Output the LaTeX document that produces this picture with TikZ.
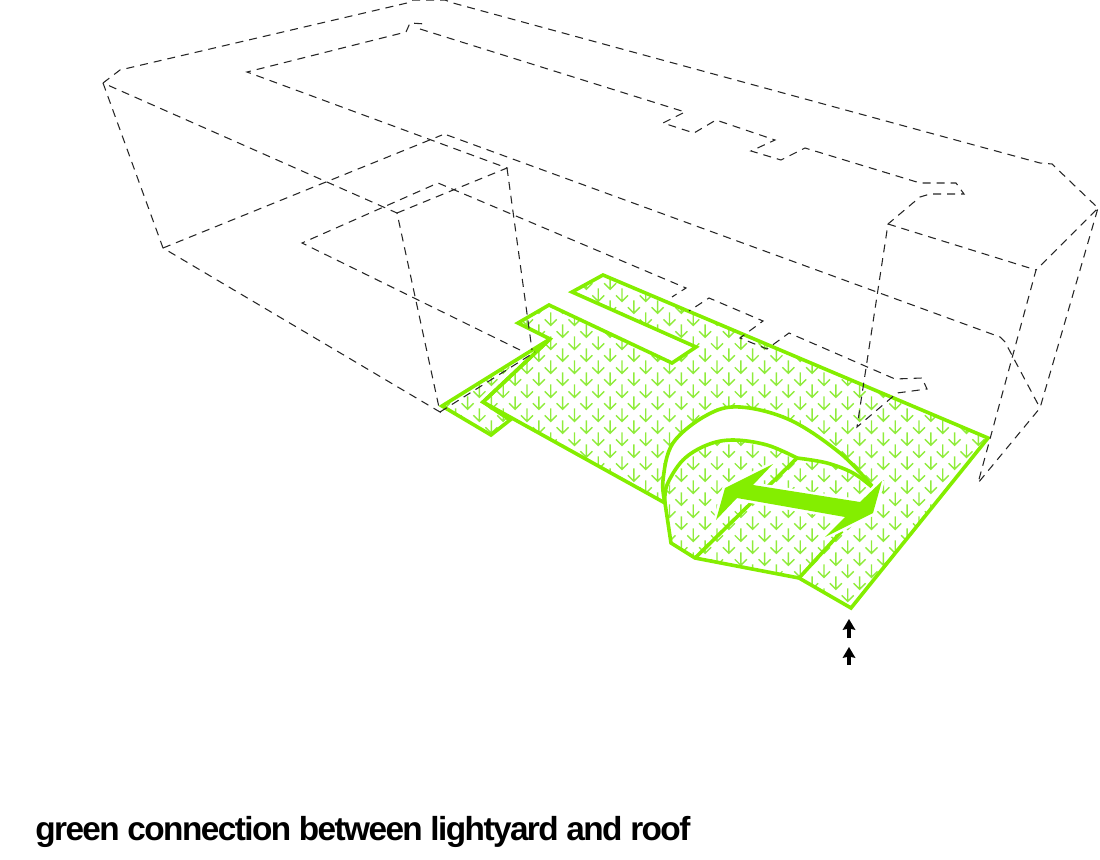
\documentclass[tikz,border=0pt]{standalone}
\usepackage{fontspec}
\setmainfont{Liberation Sans}
\tikzset{
  wire/.style={draw=black!85,line width=0.8pt,dash pattern=on 6pt off 4.5pt,line join=miter},
  greenline/.style={draw=leaf,line width=2.7pt,line join=miter},
  hatchline/.style={draw=leafsoft,line width=1.05pt},
  blackup/.style={draw=black,line width=3pt},
  caption/.style={anchor=base west,inner sep=0pt,font=\bfseries\fontsize{25pt}{28pt}\selectfont\addfontfeature{LetterSpace=-4.7}}
}
\definecolor{leaf}{HTML}{84EE00}
\definecolor{leafsoft}{HTML}{90EC3C}
\begin{document}
\begin{tikzpicture}[x=0.75pt,y=-0.75pt]
\useasboundingbox (0,0) rectangle (1100,860);
% green floor, hatching
\def\mainshape{(549,305) -- (672,363) -- (696,347) -- (572,292) -- (603,275) -- (988,438) -- (851,608) -- (799,578) -- (695,558) -- (671,543) -- (665,503) -- (483,402) -- (550,339) -- (518,323) -- cycle}
\def\sideshape{(442,406) -- (550,339) -- (483,402) -- (510,420) -- (491,435) -- cycle}
\begin{scope}
\clip \mainshape \sideshape;
\foreach \j in {-14,...,15}{
 \foreach \i in {-42,...,6}{
  \ifodd\numexpr\i+\j+100\relax\else
   \draw[hatchline] (919+11.88*\i,433.3+12*\j) ++(0,-13) -- ++(0,13) ++(-6,-6) -- ++(6,6) -- ++(6,-6);
  \fi
 }
}
\end{scope}
% white band between arcs
\fill[white] plot[smooth,tension=0.6] coordinates {(664,497) (663,480) (673,443) (707,415) (740,407) (790,420) (840,453) (872,486)}
 -- plot[smooth,tension=0.6] coordinates {(872,486) (853,473) (827,463) (797,458)}
 -- plot[smooth,tension=0.6] coordinates {(797,458) (767,445) (733,440) (707,445) (683,460) (667,490) (664,497)} -- cycle;
% outlines
\draw[greenline] \mainshape;
\draw[greenline] \sideshape;
\draw[greenline] plot[smooth,tension=0.6] coordinates {(665,503) (663,480) (673,443) (707,415) (740,407) (790,420) (840,453) (872,486)};
\draw[greenline] plot[smooth,tension=0.6] coordinates {(665,503) (667,485) (683,460) (707,445) (733,440) (767,445) (797,458)};
\draw[greenline] plot[smooth,tension=0.6] coordinates {(797,458) (827,463) (853,473) (872,487)};
\draw[greenline] (797,458) -- (695,558);
\draw[greenline] (799,578) -- (842,531);
% two-headed arrow
\path[draw=white,line width=4pt,line join=miter,miter limit=2] (773,464) -- (725,488) -- (716,520) -- (737,498) -- (845,517) -- (825,537) -- (873,513) -- (882,481) -- (860,502) -- (753,485) -- cycle;
\fill[leaf] (773,464) -- (725,488) -- (716,520) -- (737,498) -- (845,517) -- (825,537) -- (873,513) -- (882,481) -- (860,502) -- (753,485) -- cycle;
% dashed wire frame
\draw[wire] (103,83) -- (120,70) -- (407,3) -- (413,0) -- (445,0) -- (453,3) -- (1040,163) -- (1052,164) -- (1098,208) -- (1036,270) -- (978,483) -- (1040,408) -- (1098,208);
\draw[wire] (103,83) -- (163,248) -- (440,412) -- (397,213) -- (103,83);
\draw[wire] (163,248) -- (442,135);
\draw[wire] (447,135) -- (1000,337) -- (1005,342) -- (1040,408);
\draw[wire] (397,213) -- (507,168) -- (247,72) -- (406,32) -- (410,23) -- (426,24);
\draw[wire] (507,168) -- (532,350);
\draw[wire] (440,412) -- (535,352);
\draw[wire] (520,350) -- (302,243) -- (438,183) -- (686,288) -- (672,297);
\draw[wire] (420,29) -- (685,112) -- (663,123) -- (694,133) -- (716,120) -- (775,140) -- (751,151) -- (781,160) -- (805,148) -- (920,183) -- (956,183) -- (964,194) -- (930,194) -- (920,197) -- (888,224) -- (857,427) -- (897,393) -- (927,389) -- (922,378) -- (895,379) -- (789,333) -- (767,349) -- (740,338) -- (763,321) -- (709,298) -- (689,311);
\draw[wire] (888,224) -- (1036,270);
% black arrows
\coordinate (a1s) at (849,638); \coordinate (a1t) at (849,625);
\coordinate (a2s) at (849,665); \coordinate (a2t) at (849,653);
\draw[blackup] (a1s) -- (a1t);
\draw[blackup] (a2s) -- (a2t);
\fill (849,619) -- (855.5,630) -- (849,628.5) -- (842.5,630) -- cycle;
\fill (849,647) -- (855.5,658) -- (849,656.5) -- (842.5,658) -- cycle;
% caption
\node[caption] (cap) at (35,840) {green connection between lightyard and roof};
\end{tikzpicture}
\end{document}
